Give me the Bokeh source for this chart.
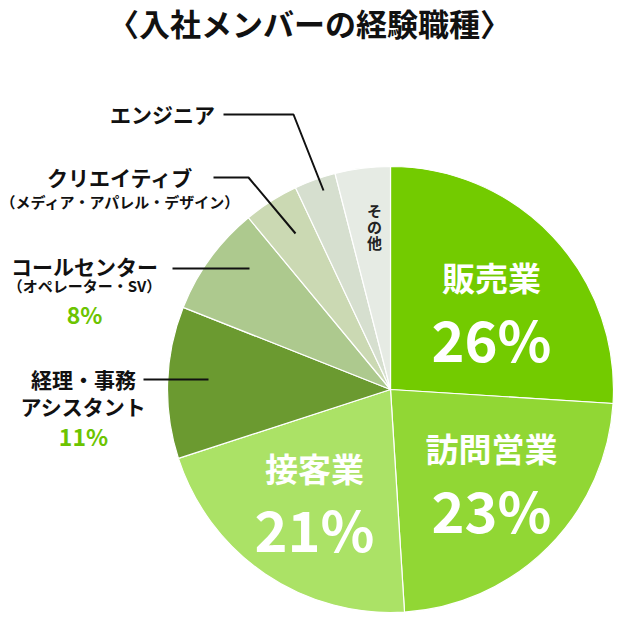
import math
from bokeh.plotting import figure
from bokeh.models import Range1d, ColumnDataSource
from bokeh.core.properties import value
from bokeh.embed import file_html
from bokeh.resources import INLINE

# ---- data ----
categories = ["販売業", "訪問営業", "接客業", "経理・事務アシスタント", "コールセンター",
              "クリエイティブ", "エンジニア", "その他"]
shares = [26, 23, 21, 11, 8, 4, 3, 4]
colors = ["#73cb00", "#91d734", "#abe266", "#6b9a30", "#adc98e", "#cbd9b3", "#d6dfcf", "#e6ebe4"]
inner_names = ["販売業", "訪問営業", "接客業"]
inner_pcts = ["26%", "23%", "21%"]
outer_pcts = ["11%", "8%"]
other_chars = ["そ", "の", "他"]
title = "〈入社メンバーの経験職種〉"

FONT = "Noto Sans CJK JP"
W, H = 616, 632

def Y(sy):
    return 640 - sy

p = figure(width=W, height=H, output_backend="svg", toolbar_location=None,
           x_range=Range1d(0, W), y_range=Range1d(640 - H, 640), min_border=0)
p.axis.visible = False
p.grid.visible = False
p.outline_line_color = None
p.background_fill_color = "white"
p.border_fill_color = "white"

# pie geometry (screen px)
CX, CY, R = 390, 389, 223

total = sum(shares)
starts, ends = [], []
cum = 0
for s in shares:
    starts.append(math.pi / 2 - 2 * math.pi * cum / total)
    cum += s
    ends.append(math.pi / 2 - 2 * math.pi * cum / total)

src = ColumnDataSource(dict(x=[CX] * len(shares), y=[Y(CY)] * len(shares),
                            start=starts, end=ends, color=colors, cat=categories))
p.wedge(x="x", y="y", radius=R, start_angle="start", end_angle="end",
        direction="clock", fill_color="color", line_color="white", line_width=1.2,
        source=src)

# title
p.text(x=[309], y=[Y(22)], text=[title], text_font=value(FONT), text_font_style="bold",
       text_font_size="31px", text_align="center", text_baseline="middle", text_color="#111111")

# inner labels
name_pos = [(491, 276), (491, 447), (314, 467)]
pct_pos = [(491, 337), (491, 508), (314, 527)]
p.text(x=[a for a, b in name_pos], y=[Y(b) for a, b in name_pos], text=inner_names,
       text_font=value(FONT), text_font_style="bold", text_font_size="33px",
       text_align="center", text_baseline="middle", text_color="white")
p.text(x=[a for a, b in pct_pos], y=[Y(b) for a, b in pct_pos], text=inner_pcts,
       text_font=value(FONT), text_font_style="bold", text_font_size="56px",
       text_align="center", text_baseline="middle", text_color="white")

# その他 vertical
p.text(x=[374, 374, 374], y=[Y(210), Y(226), Y(242)], text=other_chars,
       text_font=value(FONT), text_font_style="bold",
       text_font_size="15px", text_align="center", text_baseline="middle",
       text_color="#222222")

# outer labels
big_lbl = ["エンジニア", "クリエイティブ", "コールセンター", "経理・事務", "アシスタント"]
big_x = [162, 120, 84, 83, 83]
big_y = [113, 176, 265, 378, 405]
p.text(x=big_x, y=[Y(v) for v in big_y], text=big_lbl, text_font=value(FONT),
       text_font_style="bold", text_font_size="21px", text_align="center",
       text_baseline="middle", text_color="#111111")

small_lbl = ["（メディア・アパレル・デザイン）", "（オペレーター・SV）"]
small_x = [120, 84]
small_y = [201, 285]
p.text(x=small_x, y=[Y(v) for v in small_y], text=small_lbl, text_font=value(FONT),
       text_font_style="bold", text_font_size="15px", text_align="center",
       text_baseline="middle", text_color="#111111")

p.text(x=[83, 84], y=[Y(435), Y(313)], text=outer_pcts, text_font=value(FONT),
       text_font_style="bold", text_font_size="23px", text_align="center",
       text_baseline="middle", text_color="#6cc400")

# leader lines (layout)
leaders = [
    [(223, 114), (293, 114), (323, 190)],
    [(213, 177), (248, 177), (295, 233)],
    [(172, 268), (249, 268)],
    [(143, 379), (208, 379)],
]
p.multi_line(xs=[[a for a, b in L] for L in leaders], ys=[[Y(b) for a, b in L] for L in leaders],
             line_color="#111111", line_width=2)

open("out.html", "w").write(file_html(p, INLINE))
